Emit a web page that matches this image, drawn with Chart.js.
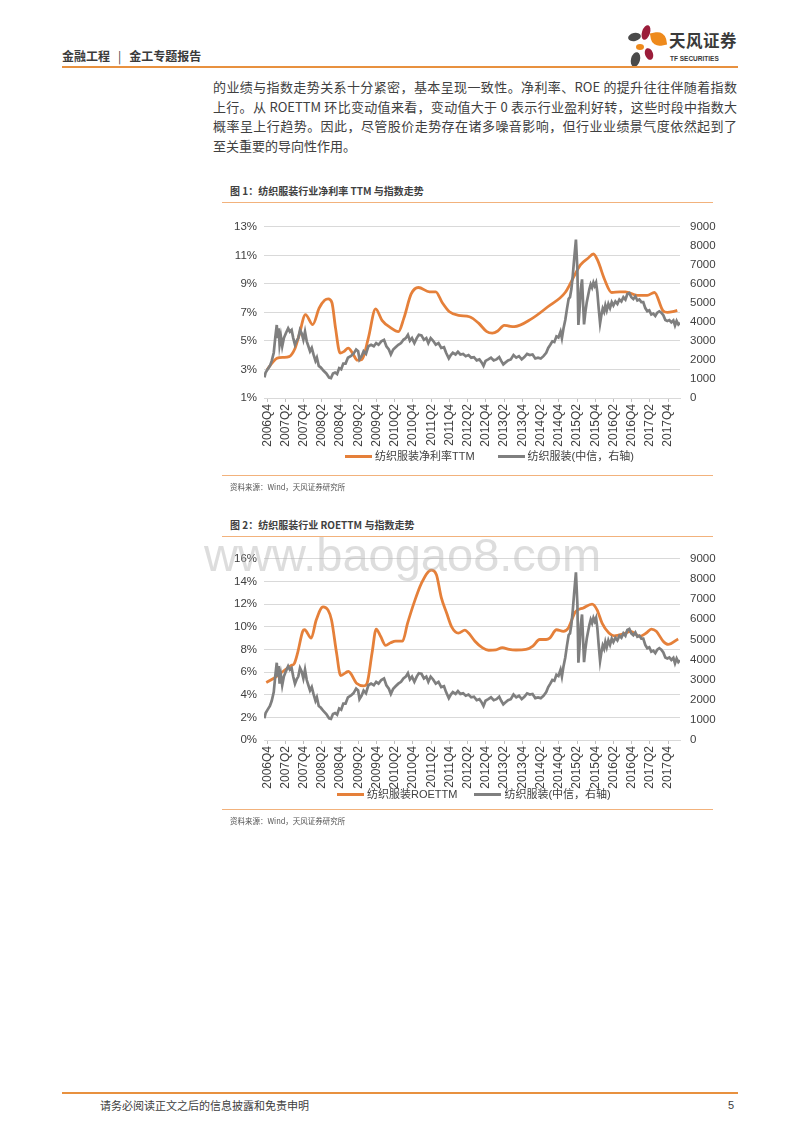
<!DOCTYPE html>
<html lang="zh-CN">
<head>
<meta charset="utf-8">
<title>纺织服装行业净利率、ROETTM 与指数走势</title>
<script src="https://cdn.jsdelivr.net/npm/chart.js@4.4.0/dist/chart.umd.min.js"></script>
<style>
    body { margin: 0; background: #fff; }
    #page { position: relative; width: 800px; height: 1132px; overflow: hidden;
            font-family: "Noto Sans CJK SC", "Liberation Sans", sans-serif; color: #404040; }
    .abs { position: absolute; }
    .rule { position: absolute; height: 0; }
    .head { left: 62px; top: 46px; font-size: 12px; font-weight: bold; color: #3a3a3a; line-height: 20px; white-space: nowrap; }
    .head .sep { margin: 0 8px; font-weight: normal; }
    .body { left: 213px; top: 77px; width: 524px; font-size: 13px; line-height: 19.5px; color: #404040; }
    .body div { text-align: justify; text-align-last: justify; }
    .body div.last { text-align-last: left; }
    .figt { left: 230px; font-size: 10px; font-weight: bold; color: #404040; line-height: 14px; }
    .src { left: 230px; font-size: 7.5px; color: #555; line-height: 10px; }
    .box { position: absolute; }
    .petal { position: absolute; }
    .legend { position: absolute; display: flex; align-items: center; font-family: "Liberation Sans", "Noto Sans CJK SC", sans-serif;
              font-size: 11px; line-height: 14px; color: #404040; white-space: nowrap; }
    .legend .sw { display: inline-block; width: 27px; height: 3px; margin-right: 3px; }
    .legend .gap { display: inline-block; width: 23px; }
    .wm { left: 204px; top: 531px; font-family: "Liberation Sans", sans-serif; font-size: 47px; line-height: 47px;
          color: rgba(175,175,175,0.42); pointer-events: none; z-index: 5; }
</style>
</head>
<body>
<div id="page">

    <div class="abs head"><span>金融工程</span><span class="sep">|</span><span>金工专题报告</span></div>

    <!-- logo -->
    <div class="petal" style="left:642px;top:25px;width:8px;height:15px;background:#9b1d3a;border-radius:50%;transform:rotate(18deg);"></div>
    <div class="petal" style="left:628px;top:33px;width:13px;height:8px;background:#4a4a4a;border-radius:50%;transform:rotate(-12deg);"></div>
    <div class="petal" style="left:651px;top:32px;width:15px;height:14px;background:#ee8a1c;border-radius:0 60% 0 60%;transform:rotate(-10deg);"></div>
    <div class="petal" style="left:636px;top:44px;width:8px;height:6px;background:#ee8a1c;border-radius:50%;"></div>
    <div class="petal" style="left:645px;top:48px;width:8px;height:12px;background:#9b1d3a;border-radius:50%;transform:rotate(-20deg);"></div>
    <div class="petal" style="left:631px;top:52px;width:9px;height:15px;background:#4a4a4a;border-radius:50%;transform:rotate(15deg);"></div>
    <div class="abs" style="left:669px;top:30px;font-size:16.5px;font-weight:bold;color:#3a3a3a;line-height:20px;letter-spacing:0.5px;">天风证券</div>
    <div class="abs" style="left:670px;top:55px;font-family:'Liberation Sans',sans-serif;font-size:6.5px;font-weight:bold;color:#3a3a3a;line-height:8px;">TF SECURITIES</div>

    <div class="rule" style="left:62px;top:66px;width:676px;border-top:2px solid #e8913f;"></div>

    <div class="abs body">
        <div>的业绩与指数走势关系十分紧密，基本呈现一致性。净利率、ROE 的提升往往伴随着指数</div>
        <div>上行。从 ROETTM 环比变动值来看，变动值大于 0 表示行业盈利好转，这些时段中指数大</div>
        <div>概率呈上行趋势。因此，尽管股价走势存在诸多噪音影响，但行业业绩景气度依然起到了</div>
        <div class="last">至关重要的导向性作用。</div>
    </div>

    <!-- figure 1 -->
    <div class="abs figt" style="top:184px;">图 1：纺织服装行业净利率 TTM 与指数走势</div>
    <div class="rule" style="left:222px;top:202px;width:491px;border-top:1px solid #f2b27c;"></div>
    <div class="box" style="left:222px;top:210px;width:500px;height:240px;"><canvas id="chartProfit"></canvas></div>
    <div class="legend" style="left:345px;top:449px;">
        <span class="sw" style="background:#e5803a"></span><span>纺织服装净利率TTM</span><span class="gap"></span>
        <span class="sw" style="background:#7f7f7f"></span><span>纺织服装(中信，右轴)</span>
    </div>
    <div class="rule" style="left:222px;top:475px;width:491px;border-top:1px solid #f2b27c;"></div>
    <div class="abs src" style="top:482px;">资料来源：Wind，天风证券研究所</div>

    <!-- figure 2 -->
    <div class="abs figt" style="top:518px;">图 2：纺织服装行业 ROETTM 与指数走势</div>
    <div class="rule" style="left:222px;top:536px;width:491px;border-top:1px solid #f2b27c;"></div>
    <div class="box" style="left:222px;top:542px;width:500px;height:250px;"><canvas id="chartRoe"></canvas></div>
    <div class="legend" style="left:337px;top:787px;">
        <span class="sw" style="background:#e5803a"></span><span>纺织服装ROETTM</span><span class="gap" style="width:17px"></span>
        <span class="sw" style="background:#7f7f7f"></span><span>纺织服装(中信，右轴)</span>
    </div>
    <div class="rule" style="left:222px;top:809px;width:491px;border-top:1px solid #f2b27c;"></div>
    <div class="abs src" style="top:816px;">资料来源：Wind，天风证券研究所</div>

    <div class="abs wm">www.baogao8.com</div>

    <div class="rule" style="left:62px;top:1092px;width:676px;border-top:2px solid #e8913f;"></div>
    <div class="abs" style="left:100px;top:1097px;font-size:11px;line-height:16px;color:#404040;">请务必阅读正文之后的信息披露和免责申明</div>
    <div class="abs" style="left:728px;top:1097px;font-size:11px;line-height:16px;color:#404040;font-family:'Liberation Sans',sans-serif;">5</div>
</div>

<script type="text/javascript">

    // x position = quarters after 2006Q4
    const tickLabels = ['2006Q4', '2007Q2', '2007Q4', '2008Q2', '2008Q4', '2009Q2', '2009Q4', '2010Q2',
        '2010Q4', '2011Q2', '2011Q4', '2012Q2', '2012Q4', '2013Q2', '2013Q4', '2014Q2', '2014Q4',
        '2015Q2', '2015Q4', '2016Q2', '2016Q4', '2017Q2', '2017Q4'];

    // 纺织服装净利率TTM (%)
    const profitTTM = [[0, 3.0], [0.6, 3.5], [1.1, 3.8], [1.8, 3.85], [2.4, 3.9], [3.0, 4.4], [3.5, 5.4],
        [4.2, 6.85], [5.0, 6.15], [5.7, 7.3], [6.3, 7.85], [6.7, 7.95], [7.1, 7.7], [7.5, 5.9], [8.0, 4.15],
        [8.4, 4.25], [8.9, 4.5], [9.4, 4.1], [9.9, 3.65], [10.4, 3.7], [11.1, 5.2], [11.9, 7.25], [12.6, 6.45],
        [13.5, 5.95], [14.4, 5.65], [15.0, 6.6], [15.8, 8.3], [16.6, 8.75], [17.8, 8.45], [18.5, 8.45],
        [19.2, 7.7], [20.0, 7.05], [21.0, 6.8], [22.2, 6.7], [23.2, 6.25], [24.1, 5.65], [24.7, 5.55],
        [25.3, 5.7], [26.0, 6.1], [26.5, 6.05], [27.1, 6.0], [29.0, 6.55], [30.8, 7.4], [32.7, 8.4],
        [33.8, 9.7], [34.4, 10.35], [35.2, 10.8], [35.8, 11.1], [36.3, 10.6], [37.0, 9.35], [37.8, 8.4],
        [38.7, 8.45], [39.3, 8.45], [40.6, 8.2], [41.7, 8.2], [42.5, 8.4], [43.4, 7.15], [43.9, 7.0],
        [44.5, 7.05], [45.0, 7.15]];

    // 纺织服装ROETTM (%)
    const roeTTM = [[-0.1, 5.07], [0.93, 5.56], [1.86, 6.14], [2.6, 6.57], [2.97, 6.75], [3.34, 7.7],
        [3.9, 9.6], [4.1, 9.74], [4.83, 9.0], [5.38, 10.6], [6.13, 11.76], [6.68, 11.47], [7.06, 10.6],
        [7.61, 7.7], [8.06, 5.7], [8.91, 6.05], [9.84, 4.99], [10.58, 4.78], [10.95, 4.99], [11.51, 7.7],
        [11.96, 9.8], [12.44, 9.16], [13.0, 8.36], [13.55, 8.59], [14.1, 8.73], [14.85, 8.73], [15.4, 10.3],
        [16.15, 12.2], [16.9, 13.8], [18.0, 15.0], [18.57, 14.6], [19.1, 12.6], [19.7, 11.2], [20.24, 10.0],
        [20.98, 9.45], [21.7, 9.7], [22.1, 9.45], [22.8, 8.73], [23.6, 8.16], [24.3, 7.93], [25.1, 7.96],
        [25.8, 8.16], [26.55, 8.0], [27.3, 7.95], [28.4, 8.0], [29.15, 8.3], [29.9, 8.88], [30.6, 8.88],
        [31.0, 9.0], [31.75, 9.74], [32.5, 9.6], [33.05, 9.9], [33.8, 11.3], [34.7, 11.67], [35.65, 12.0],
        [36.2, 11.5], [36.76, 10.3], [37.5, 9.45], [38.06, 9.2], [39.2, 9.4], [39.9, 9.6], [40.85, 9.16],
        [41.6, 9.45], [42.15, 9.8], [42.7, 9.6], [43.45, 8.73], [44.0, 8.44], [45.1, 8.93]];

    // 纺织服装(中信) 指数
    const citicIndex = [[-0.3, 1080], [-0.17, 1340], [0.05, 1510], [0.3, 1690], [0.5, 1950], [0.72, 2380],
        [0.88, 3150], [1.05, 3840], [1.15, 3150], [1.26, 3670], [1.36, 2800], [1.5, 3240], [1.65, 2720],
        [1.83, 3150], [2.05, 3410], [2.3, 3670], [2.49, 3490], [2.68, 3580], [2.86, 3150], [3.05, 2800],
        [3.23, 3010], [3.41, 3150], [3.6, 3580], [3.78, 3410], [3.97, 3060], [4.15, 3490], [4.34, 2980],
        [4.52, 2720], [4.7, 2460], [4.89, 2630], [5.08, 2290], [5.3, 1950], [5.45, 2120], [5.66, 1690],
        [5.89, 1600], [6.19, 1430], [6.49, 1290], [6.79, 1080], [7.0, 1050], [7.22, 1290], [7.45, 1340],
        [7.67, 1260], [7.9, 1570], [8.12, 1510], [8.35, 1810], [8.6, 1810], [8.86, 2120], [9.16, 2200],
        [9.46, 2320], [9.76, 2550], [9.98, 2460], [10.13, 2030], [10.36, 2200], [10.58, 2460], [10.84, 2320],
        [11.1, 2720], [11.4, 2800], [11.7, 2720], [11.96, 2890], [12.22, 2800], [12.52, 2980], [12.82, 3060],
        [13.08, 2720], [13.35, 2550], [13.57, 2290], [13.83, 2550], [14.09, 2670], [14.39, 2800], [14.69, 2890],
        [14.95, 3060], [15.21, 3150], [15.44, 3320], [15.66, 3010], [15.89, 3150], [16.15, 2890], [16.41, 3150],
        [16.64, 3320], [16.93, 3290], [17.2, 3060], [17.46, 3150], [17.68, 2890], [17.94, 3150], [18.21, 3010],
        [18.5, 2800], [18.8, 2890], [19.1, 2630], [19.4, 2670], [19.63, 2380], [19.93, 2080], [20.15, 2260],
        [20.37, 2380], [20.67, 2290], [20.93, 2430], [21.2, 2290], [21.5, 2320], [21.79, 2200], [22.09, 2260],
        [22.39, 2120], [22.69, 2150], [22.99, 1980], [23.29, 2030], [23.55, 1860], [23.74, 1690], [23.96, 1950],
        [24.26, 2030], [24.56, 2120], [24.86, 1980], [25.16, 2030], [25.46, 2150], [25.68, 1950], [25.91, 1770],
        [26.13, 1860], [26.43, 1980], [26.73, 2030], [27.03, 2260], [27.33, 2120], [27.63, 2200], [27.93, 2030],
        [28.22, 2150], [28.52, 2320], [28.82, 2260], [29.12, 2290], [29.42, 2080], [29.72, 2120], [30.02, 2080],
        [30.32, 2200], [30.62, 2380], [30.84, 2630], [31.07, 2800], [31.29, 2980], [31.51, 2940], [31.74, 3240],
        [31.96, 3180], [32.19, 3490], [32.34, 3150], [32.52, 3670], [32.71, 4100], [32.9, 4700], [33.08, 5220],
        [33.23, 5300], [33.38, 5730], [33.53, 6420], [33.68, 7280], [33.88, 8330], [34.04, 6750], [34.15, 3840],
        [34.26, 4530], [34.41, 5730], [34.55, 6240], [34.66, 5040], [34.77, 3870], [34.92, 4530], [35.07, 5040],
        [35.21, 5380], [35.36, 5730], [35.5, 5980], [35.65, 5810], [35.8, 6070], [35.94, 5900], [36.09, 6070],
        [36.23, 5560], [36.38, 4700], [36.53, 3930], [36.67, 4350], [36.82, 4700], [36.97, 4530], [37.11, 4870],
        [37.26, 4610], [37.44, 4950], [37.62, 4730], [37.81, 5040], [37.99, 4870], [38.21, 5080], [38.43, 4950],
        [38.65, 5180], [38.87, 5080], [39.09, 5300], [39.31, 5180], [39.52, 5470], [39.74, 5520], [39.96, 5300],
        [40.18, 5210], [40.4, 5350], [40.62, 5130], [40.84, 5180], [41.06, 5040], [41.27, 5040], [41.49, 4730],
        [41.71, 4560], [41.93, 4610], [42.15, 4390], [42.37, 4440], [42.59, 4320], [42.81, 4490], [43.03, 4560],
        [43.25, 4490], [43.47, 4350], [43.69, 4100], [43.91, 4050], [44.13, 4100], [44.35, 3980], [44.57, 4080],
        [44.75, 3810], [44.93, 4050], [45.12, 3870], [45.3, 3960]];

    const ORANGE = '#e5803a';
    const GRAY = '#7f7f7f';
    const FONT = "'Liberation Sans', 'Noto Sans CJK SC', sans-serif";

    function toXY(points) {
        return points.map(p => ({x: p[0], y: p[1]}));
    }

    function makeChart(canvasId, orangeLabel, orangePoints, leftMin, leftMax, padTop) {
        new Chart(canvasId, {
            type: 'line',
            data: {
                datasets: [
                    {
                        label: orangeLabel,
                        data: toXY(orangePoints),
                        yAxisID: 'yLeft',
                        borderColor: ORANGE,
                        borderWidth: 2.8,
                        pointRadius: 0,
                        cubicInterpolationMode: 'monotone',
                        order: 1
                    },
                    {
                        label: '纺织服装(中信，右轴)',
                        data: toXY(citicIndex),
                        yAxisID: 'yRight',
                        borderColor: GRAY,
                        borderWidth: 2.7,
                        pointRadius: 0,
                        tension: 0,
                        order: 0
                    }
                ]
            },
            options: {
                responsive: true,
                maintainAspectRatio: false,
                animation: false,
                layout: {padding: {top: padTop, left: 0, right: 0, bottom: 0}},
                plugins: {
                    tooltip: {enabled: false},
                    legend: {display: false}
                },
                scales: {
                    x: {
                        type: 'linear',
                        min: -0.35,
                        max: 45.3,
                        afterBuildTicks: scale => {
                            scale.ticks = tickLabels.map((l, i) => ({value: i * 2}));
                        },
                        afterFit: scale => {
                            scale.height = 52;
                        },
                        ticks: {
                            autoSkip: false,
                            minRotation: 90,
                            maxRotation: 90,
                            padding: 2,
                            color: '#404040',
                            font: {size: 12, family: FONT},
                            callback: (value, index) => tickLabels[index]
                        },
                        grid: {drawOnChartArea: false, tickLength: 4, color: '#bfbfbf'},
                        border: {display: true, color: '#d9d9d9'}
                    },
                    yLeft: {
                        position: 'left',
                        min: leftMin,
                        max: leftMax,
                        afterFit: scale => {
                            scale.width = 42;
                        },
                        ticks: {
                            stepSize: 2,
                            padding: 7,
                            color: '#404040',
                            font: {size: 11.5, family: FONT},
                            callback: v => v + '%'
                        },
                        grid: {color: '#d9d9d9', drawTicks: false},
                        border: {display: false}
                    },
                    yRight: {
                        position: 'right',
                        min: 0,
                        max: 9000,
                        afterFit: scale => {
                            scale.width = 42;
                        },
                        ticks: {
                            stepSize: 1000,
                            padding: 10,
                            color: '#404040',
                            font: {size: 11.5, family: FONT},
                            callback: v => String(v)
                        },
                        grid: {drawOnChartArea: false, drawTicks: false},
                        border: {display: false}
                    }
                }
            }
        });
    }

    makeChart('chartProfit', '纺织服装净利率TTM', profitTTM, 1, 13, 13);
    makeChart('chartRoe', '纺织服装ROETTM', roeTTM, 0, 16, 12.5);

</script>
</body>
</html>
